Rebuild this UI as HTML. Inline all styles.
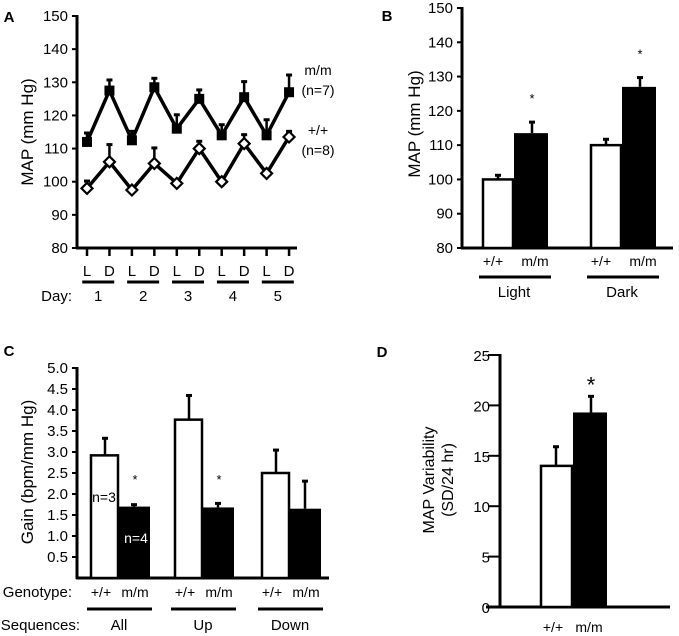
<!DOCTYPE html>
<html><head><meta charset="utf-8"><style>
html,body{margin:0;padding:0;background:#fff}
svg{display:block;font-family:"Liberation Sans",Arial,sans-serif}
</style></head><body>
<svg id="fig" width="679" height="636" viewBox="0 0 679 636" xmlns="http://www.w3.org/2000/svg"></svg>
<script>
// Panel A data
const aLabels = ["L","D","L","D","L","D","L","D","L","D"];
const aDays = ["1","2","3","4","5"];
const aMM = [112,127.5,112.5,128.5,116,125,114,125.5,114,127];
const aMMerr = [115,131,115.5,131.5,120.5,128,117.5,130.5,119,132.5];
const aWT = [98,106,97.5,105.5,99.5,110,100,111.5,102.5,113.5];
const aWTerr = [100.5,111.5,null,110.5,null,112.5,null,114.5,104,115.5];
const aTicks = [80,90,100,110,120,130,140,150];
// Panel B data
const bGroups = ["Light","Dark"];
const bWT = [100,110];
const bWTerr = [101.5,112];
const bMM = [113.5,127];
const bMMerr = [117,130];
const bTicks = [80,90,100,110,120,130,140,150];
// Panel C data
const cGroups = ["All","Up","Down"];
const cWT = [2.92,3.77,2.5];
const cWTerr = [3.35,4.37,3.07];
const cMM = [1.7,1.68,1.65];
const cMMerr = [1.77,1.8,2.33];
const cStar = [true,true,false];
const cTicks = ["0.5","1.0","1.5","2.0","2.5","3.0","3.5","4.0","4.5","5.0"];
// Panel D data
const dWT = [14];
const dWTerr = [16];
const dMM = [19.3];
const dMMerr = [21];
const dTicks = [0,5,10,15,20,25];

const svg = document.getElementById('fig');
const NS = "http://www.w3.org/2000/svg";
function el(tag, attrs, text){
  const e = document.createElementNS(NS, tag);
  for (const k in attrs) e.setAttribute(k, attrs[k]);
  if (text !== undefined) e.textContent = text;
  svg.appendChild(e);
  return e;
}
function line(x1,y1,x2,y2,w){ return el('line',{x1,y1,x2,y2,stroke:'#000','stroke-width':w||2}); }
function txt(x,y,s,size,anchor,extra){
  const a = Object.assign({x,y,'font-size':size,'text-anchor':anchor||'middle'}, extra||{});
  return el('text',a,s);
}
function errbar(x,yTop,yBase){
  let e = line(x,yBase,x,yTop,2.5);
  
  
  let c = line(x-3,yTop+1,x+3,yTop+1,3);
  
  
}

// ---------- Panel A ----------
{
  const yA = v => 248 - (v-80)*232/70;
  const xA = i => 87 + i*22.45;
  let t = txt(9,22,"A",15,'middle',{'font-weight':'bold'});
   
  let ax = line(77,15,77,249,3);  
  ax = line(76,248,297,248,3);  
  aTicks.forEach(v=>{
    line(72,yA(v),77,yA(v),2);
    let l = txt(68,yA(v)+5,String(v),15,'end');
     
  });
  t = txt(0,0,"MAP (mm Hg)",17,'middle',{transform:`translate(33,132) rotate(-90)`});
   
  aLabels.forEach((s,i)=>{
    line(xA(i),248,xA(i),256,2.5);
    let l = txt(xA(i),276,s,15);
     
  });
  aDays.forEach((d,j)=>{
    const cx = (xA(2*j)+xA(2*j+1))/2;
    let u = line(cx-16,282,cx+16,282,3);
     
    let l = txt(cx,301,d,15);
     
  });
  t = txt(72,301,"Day:",15,'end');  
  // error bars
  aMM.forEach((v,i)=>{ if(aMMerr[i]!=null) errbar(xA(i),yA(aMMerr[i]),yA(v)); });
  aWT.forEach((v,i)=>{ if(aWTerr[i]!=null) errbar(xA(i),yA(aWTerr[i]),yA(v)); });
  // lines
  let p = el('polyline',{points:aMM.map((v,i)=>xA(i)+','+yA(v)).join(' '),fill:'none',stroke:'#000','stroke-width':3.5});
   
  p = el('polyline',{points:aWT.map((v,i)=>xA(i)+','+yA(v)).join(' '),fill:'none',stroke:'#000','stroke-width':3.5});
   
  aMM.forEach((v,i)=>{
    const r = el('rect',{x:xA(i)-5,y:yA(v)-5,width:10,height:10,fill:'#000'});
     
  });
  aWT.forEach((v,i)=>{
    const x=xA(i), y=yA(v);
    const r = el('polygon',{points:`${x},${y-5.5} ${x+5.5},${y} ${x},${y+5.5} ${x-5.5},${y}`,fill:'#fff',stroke:'#000','stroke-width':2.2});
     
  });
  [["m/m",318,75],["(n=7)",318,95],["+/+",318,135],["(n=8)",318,155]].forEach(a=>{
    let l = txt(a[1],a[2],a[0],14);
     
  });
}

// ---------- Panel B ----------
{
  const yB = v => 248 - (v-80)*240/70;
  const gx = [483,591];
  let t = txt(387,21,"B",15,'middle',{'font-weight':'bold'});
   
  let ax = line(462,7,462,249,3);  
  ax = line(461,248,673,248,3);  
  bTicks.forEach(v=>{
    line(457,yB(v),462,yB(v),2);
    let l = txt(453,yB(v)+5,String(v),15,'end');
     
  });
  t = txt(0,0,"MAP (mm Hg)",17,'middle',{transform:`translate(420,124) rotate(-90)`});
   
  bGroups.forEach((g,i)=>{
    const x0 = gx[i];
    errbar(x0+15,yB(bWTerr[i]),yB(bWT[i]));
    errbar(x0+49,yB(bMMerr[i]),yB(bMM[i]));
    let r = el('rect',{x:x0,y:yB(bWT[i]),width:30,height:248-yB(bWT[i]),fill:'#fff',stroke:'#000','stroke-width':2.5});
     
    r = el('rect',{x:x0+31,y:yB(bMM[i]),width:34,height:248-yB(bMM[i]),fill:'#000'});
     
    let s = txt(x0+49,yB(bMMerr[i])-18,"*",13);  
    let l = txt(x0+10,266,"+/+",14);  
    l = txt(x0+52,266,"m/m",14);  
    let u = line(x0-4,277,x0+68,277,3);  
    l = txt(x0+31,297,g,15);  
  });
}

// ---------- Panel C ----------
{
  const yC = v => 578 - v*42;
  const gx = [91,175,262];
  let t = txt(9,356,"C",15,'middle',{'font-weight':'bold'});
   
  let ax = line(77,367,77,579,3);  
  ax = line(76,578,329,578,3);  
  cTicks.forEach(s=>{
    const v = parseFloat(s);
    line(72,yC(v),77,yC(v),2);
    let l = txt(68,yC(v)+5,s,15,'end');
     
  });
  t = txt(0,0,"Gain (bpm/mm Hg)",17,'middle',{transform:`translate(33,472) rotate(-90)`});
   
  cGroups.forEach((g,i)=>{
    const x0 = gx[i];
    errbar(x0+14,yC(cWTerr[i]),yC(cWT[i]));
    errbar(x0+43,yC(cMMerr[i]),yC(cMM[i]));
    let r = el('rect',{x:x0,y:yC(cWT[i]),width:27,height:578-yC(cWT[i]),fill:'#fff',stroke:'#000','stroke-width':2.5});
     
    r = el('rect',{x:x0+28,y:yC(cMM[i]),width:31,height:578-yC(cMM[i]),fill:'#000'});
     
    if (cStar[i]) { let s = txt(x0+44,yC(2.45)+9,"*",13);   }
    let l = txt(x0+10,597,"+/+",14);  
    l = txt(x0+44,597,"m/m",14);  
    let u = line(x0-4,609,x0+61,609,3);  
    l = txt(x0+28,630,g,15);  
  });
  t = txt(104,502,"n=3",14);  
  t = txt(136,543,"n=4",14,'middle',{fill:'#fff'});  
  t = txt(72,597,"Genotype:",15,'end');  
  t = txt(80,630,"Sequences:",15,'end');  
}

// ---------- Panel D ----------
{
  const yD = v => 607 - v*252/25;
  let t = txt(382,357,"D",15,'middle',{'font-weight':'bold'});
   
  let ax = line(500,354,500,608,3);  
  ax = line(486,607,670,607,3);  
  dTicks.forEach(v=>{
    line(488,yD(v),500,yD(v),2);
    let l = txt(490,yD(v)+6,String(v),15,'end');
     
  });
  t = txt(0,0,"MAP Variability",16,'middle',{transform:`translate(434,480) rotate(-90)`});
   
  t = txt(0,0,"(SD/24 hr)",16,'middle',{transform:`translate(453,480) rotate(-90)`});
   
  errbar(556,yD(dWTerr[0]),yD(dWT[0]));
  errbar(591,yD(dMMerr[0]),yD(dMM[0]));
  let r = el('rect',{x:541,y:yD(dWT[0]),width:31,height:607-yD(dWT[0]),fill:'#fff',stroke:'#000','stroke-width':2.5});
   
  r = el('rect',{x:573,y:yD(dMM[0]),width:34,height:607-yD(dMM[0]),fill:'#000'});
   
  t = txt(591,yD(dMMerr[0])-3,"*",22);  
  t = txt(553,632,"+/+",14);  
  t = txt(589,632,"m/m",14);  
}
</script>
</body></html>
